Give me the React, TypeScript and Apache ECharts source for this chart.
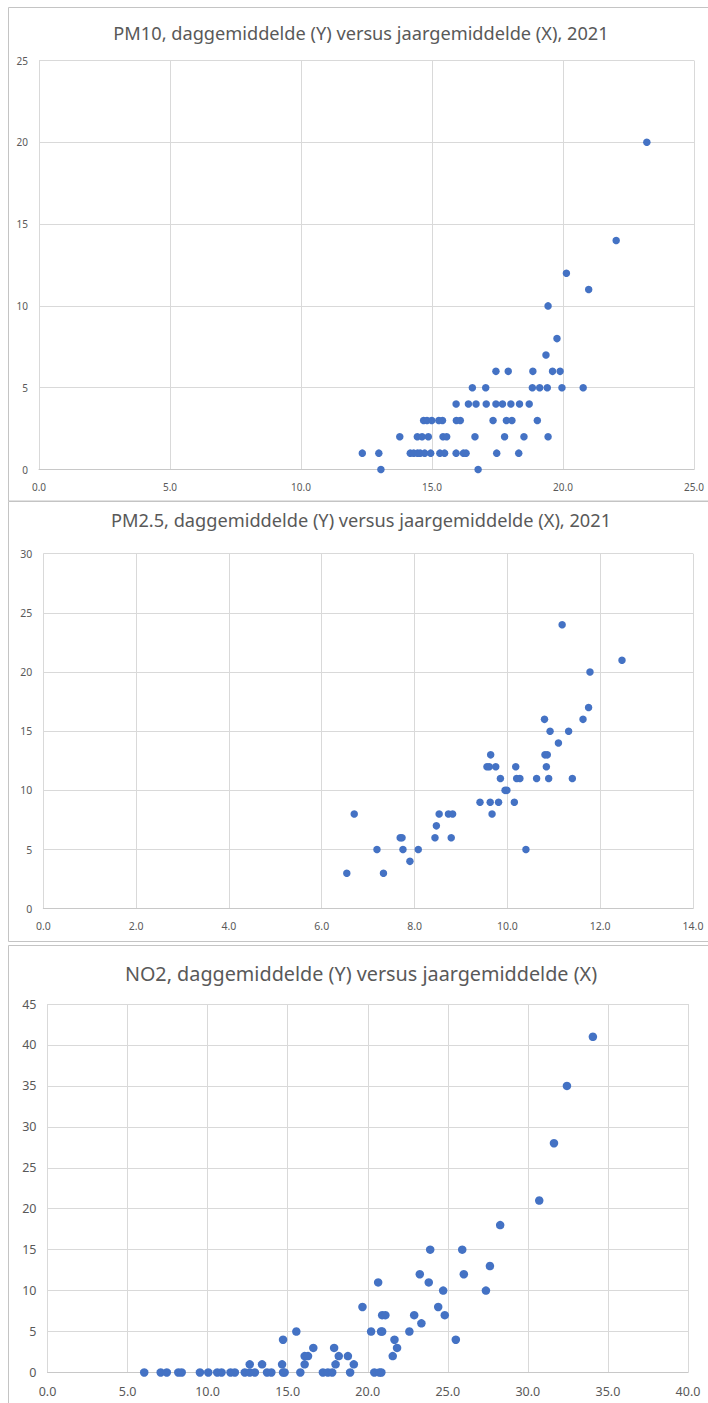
import React, { useEffect, useRef } from "react";
import * as echarts from "echarts";

// ---------- data ----------
const titles = [
  "PM10, daggemiddelde (Y) versus jaargemiddelde (X), 2021",
  "PM2.5, daggemiddelde (Y) versus jaargemiddelde (X), 2021",
  "NO2, daggemiddelde (Y) versus jaargemiddelde (X)",
];

// [x = jaargemiddelde, y = daggemiddelde-overschrijdingen]
const pm10Points: number[][] = [
  [13.05, 0], [16.76, 0],
  [12.34, 1], [12.97, 1], [14.17, 1], [14.3, 1], [14.45, 1], [14.55, 1], [14.72, 1], [14.95, 1],
  [15.3, 1], [15.48, 1], [15.92, 1], [16.2, 1], [16.3, 1], [17.47, 1], [18.31, 1],
  [13.77, 2], [14.44, 2], [14.62, 2], [14.86, 2], [15.42, 2], [15.56, 2], [16.64, 2], [17.77, 2],
  [18.51, 2], [19.43, 2],
  [14.68, 3], [14.81, 3], [14.99, 3], [15.26, 3], [15.4, 3], [15.93, 3], [16.08, 3], [17.33, 3],
  [17.84, 3], [18.05, 3], [19.02, 3],
  [15.92, 4], [16.39, 4], [16.68, 4], [17.07, 4], [17.44, 4], [17.69, 4], [18.01, 4], [18.34, 4],
  [18.71, 4],
  [16.54, 5], [17.05, 5], [18.83, 5], [19.11, 5], [19.4, 5], [19.96, 5], [20.77, 5],
  [17.44, 6], [17.91, 6], [18.85, 6], [19.6, 6], [19.89, 6],
  [19.35, 7], [19.77, 8], [19.43, 10], [20.98, 11], [20.13, 12], [22.03, 14], [23.2, 20],
];

const pm25Points: number[][] = [
  [6.54, 3], [6.7, 8], [7.19, 5], [7.33, 3], [7.69, 6], [7.73, 6], [7.75, 5], [7.9, 4], [8.08, 5],
  [8.44, 6], [8.47, 7], [8.53, 8], [8.73, 8], [8.82, 8], [8.79, 6], [9.41, 9], [9.56, 12],
  [9.61, 12], [9.63, 9], [9.64, 13], [9.67, 8], [9.75, 12], [9.81, 9], [9.85, 11], [9.95, 10],
  [9.99, 10], [10.15, 9], [10.18, 12], [10.2, 11], [10.27, 11], [10.4, 5], [10.63, 11], [10.8, 16],
  [10.81, 13], [10.86, 13], [10.84, 12], [10.89, 11], [10.92, 15], [11.1, 14], [11.18, 24],
  [11.32, 15], [11.4, 11], [11.63, 16], [11.75, 17], [11.78, 20], [12.47, 21],
];

const no2Points: number[][] = [
  [6.04, 0], [7.07, 0], [7.45, 0], [8.17, 0], [8.38, 0], [9.52, 0], [10.04, 0], [10.6, 0],
  [10.87, 0], [11.43, 0], [11.7, 0], [12.32, 0], [12.63, 0], [12.95, 0], [13.71, 0], [13.98, 0],
  [14.71, 0], [14.81, 0], [15.79, 0], [17.2, 0], [17.51, 0], [17.78, 0], [18.9, 0], [20.41, 0],
  [20.73, 0], [20.85, 0],
  [12.63, 1], [13.4, 1], [14.65, 1], [16.06, 1], [17.99, 1], [19.13, 1],
  [16.06, 2], [16.27, 2], [18.19, 2], [18.76, 2], [21.56, 2],
  [16.6, 3], [17.9, 3], [21.83, 3],
  [14.71, 4], [21.67, 4], [25.5, 4],
  [15.54, 5], [20.21, 5], [20.83, 5], [20.9, 5], [22.6, 5],
  [23.35, 6],
  [20.9, 7], [21.1, 7], [22.9, 7], [24.81, 7],
  [19.67, 8], [24.4, 8],
  [24.71, 10], [27.38, 10],
  [20.65, 11], [23.81, 11],
  [23.25, 12], [26.0, 12],
  [27.63, 13],
  [23.9, 15], [25.9, 15],
  [28.27, 18], [30.71, 21], [31.63, 28], [32.44, 35], [34.06, 41],
];

// axis ranges: [min, max, interval]
const pm10XAxis = [0, 25, 5];
const pm10YAxis = [0, 25, 5];
const pm25XAxis = [0, 14, 2];
const pm25YAxis = [0, 30, 5];
const no2XAxis = [0, 40, 5];
const no2YAxis = [0, 45, 5];

// ---------- layout ----------
const W = 708;
const H = 1403;
const FONT = "'Noto Sans', 'DejaVu Sans', sans-serif";
const TEXT = "#595959";
const GRID = "#d9d9d9";
const DOT = "#4472C4";

const panels = [
  { grid: { left: 39, top: 60.5, width: 655, height: 409 }, titleY: 33, titleSize: 18.2, labelSize: 10, dot: 7.5, x: pm10XAxis, y: pm10YAxis, data: pm10Points, box: [8.5, 7.5, 720, 493.5] },
  { grid: { left: 43.3, top: 553.7, width: 649.7, height: 355 }, titleY: 520, titleSize: 18.2, labelSize: 10.5, dot: 7.5, x: pm25XAxis, y: pm25YAxis, data: pm25Points, box: [8.5, 501.5, 720, 440] },
  { grid: { left: 47.5, top: 1004, width: 640.5, height: 368.5 }, titleY: 973, titleSize: 19.8, labelSize: 12.5, dot: 8.5, x: no2XAxis, y: no2YAxis, data: no2Points, box: [8.5, 945.5, 720, 480] },
];

export default function App() {
  const ref = useRef<HTMLDivElement>(null);

  useEffect(() => {
    if (!ref.current) return;
    const chart = echarts.init(ref.current, undefined, { renderer: "svg", width: W, height: H });

    const option: any = {
      animation: false,
      backgroundColor: "#ffffff",
      grid: panels.map((p) => ({ ...p.grid, containLabel: false })),
      xAxis: panels.map((p, i) => ({
        type: "value",
        gridIndex: i,
        min: p.x[0],
        max: p.x[1],
        interval: p.x[2],
        axisLine: { show: true, lineStyle: { color: "#c8c8c8", width: 1 } },
        axisTick: { show: false },
        splitLine: { show: true, lineStyle: { color: GRID, width: 1 } },
        axisLabel: {
          color: TEXT,
          fontFamily: FONT,
          fontSize: p.labelSize,
          margin: 12,
          formatter: (v: number) => v.toFixed(1),
        },
      })),
      yAxis: panels.map((p, i) => ({
        type: "value",
        gridIndex: i,
        min: p.y[0],
        max: p.y[1],
        interval: p.y[2],
        axisLine: { show: false },
        axisTick: { show: false },
        splitLine: { show: true, lineStyle: { color: GRID, width: 1 } },
        axisLabel: {
          color: TEXT,
          fontFamily: FONT,
          fontSize: p.labelSize,
          margin: 11,
          formatter: (v: number) => String(v),
        },
      })),
      series: panels.map((p, i) => ({
        type: "scatter",
        xAxisIndex: i,
        yAxisIndex: i,
        data: p.data,
        symbol: "circle",
        symbolSize: p.dot,
        itemStyle: { color: DOT, opacity: 1 },
        silent: true,
      })),
      graphic: [
        ...panels.map((p) => ({
          type: "rect",
          shape: { x: p.box[0], y: p.box[1], width: p.box[2], height: p.box[3] },
          style: { fill: "none", stroke: "#c4c4c4", lineWidth: 1 },
          silent: true,
          z: 0,
        })),
        ...panels.map((p, i) => ({
          type: "text",
          x: 361,
          y: p.titleY,
          style: {
            text: titles[i],
            fill: TEXT,
            fontFamily: FONT,
            fontSize: p.titleSize,
            align: "center",
            verticalAlign: "middle",
            textAlign: "center",
            textVerticalAlign: "middle",
          },
          silent: true,
        })),
      ],
    };

    chart.setOption(option);
    return () => chart.dispose();
  }, []);

  return (
    <div
      ref={ref}
      style={{ position: "absolute", left: 0, top: 0, width: W, height: H, background: "#fff" }}
    />
  );
}
